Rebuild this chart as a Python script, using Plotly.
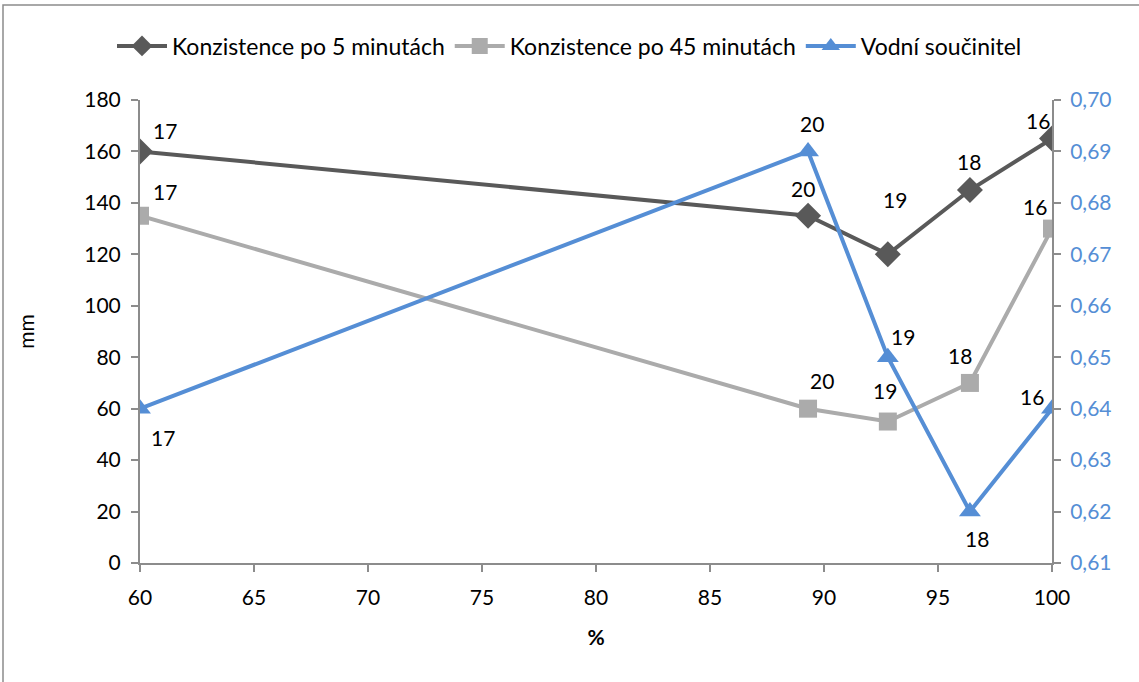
import plotly.graph_objects as go

x_pct = [60, 89.3, 92.8, 96.4, 100]
kons5 = [160, 135, 120, 145, 165]
kons45 = [135, 60, 55, 70, 130]
vodni = [0.64, 0.69, 0.65, 0.62, 0.64]
labels5 = ["17", "20", "19", "18", "16"]
labels45 = ["17", "20", "19", "18", "16"]
labelsv = ["17", "20", "19", "18", "16"]

names = ["Konzistence po 5 minutách", "Konzistence po 45 minutách", "Vodní součinitel"]
c_dark = "#595959"
c_light = "#ABABAB"
c_blue = "#558ED5"
FONT = "Lato"
FS = 21

fig = go.Figure()
fig.add_trace(go.Scatter(x=x_pct, y=kons5, name=names[0], mode="lines+markers",
                         line=dict(color=c_dark, width=4),
                         marker=dict(symbol="diamond", size=20, color=c_dark)))
fig.add_trace(go.Scatter(x=x_pct, y=kons45, name=names[1], mode="lines+markers",
                         line=dict(color=c_light, width=4),
                         marker=dict(symbol="square", size=18, color=c_light)))
fig.add_trace(go.Scatter(x=x_pct, y=vodni, name=names[2], mode="lines+markers", yaxis="y2",
                         line=dict(color=c_blue, width=4),
                         marker=dict(symbol="triangle-up", size=19, color=c_blue)))

# label offsets (pixels) relative to points
off5 = [(25, 21), (-5, 27), (7, 55), (-1, 29), (-14, 18)]
off45 = [(25, 24), (14, 28), (-3, 31), (-10, 27), (-17, 22)]
offv = [(23, -29), (4, 28), (15, 21), (7, -27), (-20, 12)]

for xs, ys, labs, offs, yref in [(x_pct, kons5, labels5, off5, "y"),
                                 (x_pct, kons45, labels45, off45, "y"),
                                 (x_pct, vodni, labelsv, offv, "y2")]:
    for xi, yi, lab, (dx, dy) in zip(xs, ys, labs, offs):
        fig.add_annotation(x=xi, y=yi, xref="x", yref=yref, text=lab, showarrow=False,
                           xshift=dx, yshift=dy, font=dict(family=FONT, size=FS, color="#000000"))

# outer border
W, H = 1139, 682
L, R, T, B = 140, 1052, 100, 563
def px(p): return (p - L) / (R - L)
def py(p): return (B - p) / (B - T)
fig.add_shape(type="rect", xref="paper", yref="paper",
              x0=px(3), x1=px(1150), y0=py(700), y1=py(5),
              line=dict(color="#8C8C8C", width=1.5), fillcolor="rgba(0,0,0,0)", layer="below")

axis_common = dict(showgrid=False, zeroline=False, showline=True, linecolor="#8C8C8C", linewidth=2,
                   ticks="outside", ticklen=7, tickcolor="#8C8C8C", tickwidth=1.5)

fig.update_layout(
    width=W, height=H,
    margin=dict(l=L, r=W - R, t=T, b=H - B, autoexpand=False),
    paper_bgcolor="white", plot_bgcolor="white",
    separators=", ",
    font=dict(family=FONT, size=FS, color="#000000"),
    xaxis=dict(range=[60, 100], dtick=5, tick0=60, tickangle=0, ticklabelstandoff=8,
               title=dict(text="<b>%</b>", font=dict(family=FONT, size=FS), standoff=22),
               tickfont=dict(family=FONT, size=FS), **axis_common),
    yaxis=dict(range=[0, 180], dtick=20, ticklabelstandoff=6,
               title=dict(text="mm", font=dict(family=FONT, size=FS), standoff=44),
               tickfont=dict(family=FONT, size=FS), **axis_common),
    yaxis2=dict(range=[0.61, 0.70], dtick=0.01, tick0=0.61, tickformat=".2f", overlaying="y", side="right",
                ticklabelstandoff=5,
                tickfont=dict(family=FONT, size=FS, color=c_blue), **axis_common),
    legend=dict(orientation="h", x=0.5, xref="container", xanchor="center",
                y=1 - 46 / H, yref="container", yanchor="middle",
                font=dict(family=FONT, size=23), tracegroupgap=0, itemwidth=50),
    showlegend=True,
)

fig.write_html("out.html")
